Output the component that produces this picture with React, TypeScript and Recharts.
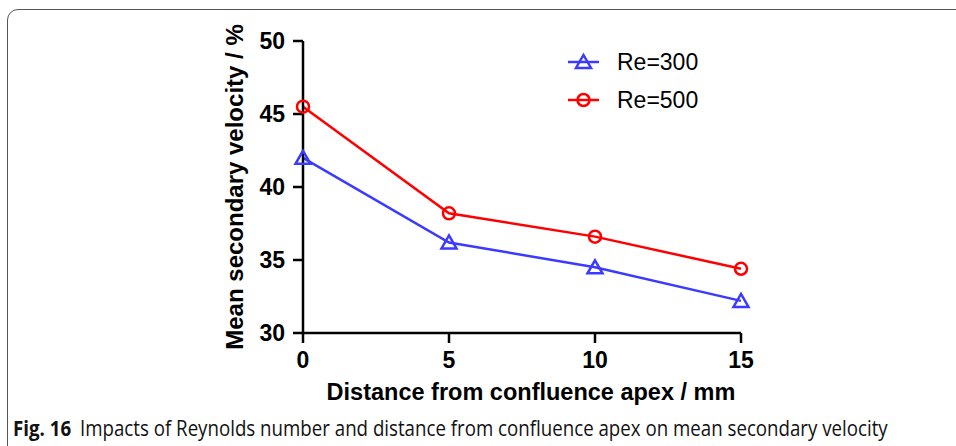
import { LineChart, Line, XAxis, YAxis } from 'recharts';

const distances = [0, 5, 10, 15];
const re300 = [42.0, 36.2, 34.5, 32.2];
const re500 = [45.5, 38.2, 36.6, 34.4];
const xTicks = [0, 5, 10, 15];
const yTicks = [30, 35, 40, 45, 50];

const BLUE = '#3b3bff';
const RED = '#ff0000';
const AXIS_FONT = 'Liberation Sans, Arial, sans-serif';

const data = distances.map((d, i) => ({ d, re300: re300[i], re500: re500[i] }));

function Triangle({ cx, cy, color }: { cx: number; cy: number; color: string }) {
  return (
    <path
      d={`M${cx},${cy - 7} L${cx + 7.5},${cy + 6} L${cx - 7.5},${cy + 6} Z`}
      fill="none"
      stroke={color}
      strokeWidth={2.5}
    />
  );
}

function Circle({ cx, cy, color }: { cx: number; cy: number; color: string }) {
  return <circle cx={cx} cy={cy} r={6} fill="none" stroke={color} strokeWidth={2.5} />;
}

const legendItems = [
  { label: 'Re=300', color: BLUE, shape: 'triangle' },
  { label: 'Re=500', color: RED, shape: 'circle' },
];

function ChartLegend() {
  return (
    <svg
      width={150}
      height={80}
      style={{ position: 'absolute', left: 568, top: 48, overflow: 'visible' }}
    >
      {legendItems.map((it, i) => {
        const y = 14 + i * 38;
        return (
          <g key={it.label}>
            <line x1={0} x2={31} y1={y} y2={y} stroke={it.color} strokeWidth={2.5} />
            {it.shape === 'triangle' ? (
              <Triangle cx={15.5} cy={y} color={it.color} />
            ) : (
              <Circle cx={15.5} cy={y} color={it.color} />
            )}
            <text x={49} y={y + 8} fontSize={23} fontFamily={AXIS_FONT} fill="#000">
              {it.label}
            </text>
          </g>
        );
      })}
    </svg>
  );
}

export default function App() {
  return (
    <div style={{ position: 'absolute', left: 0, top: 0, width: 956, height: 446, background: '#fff', overflow: 'hidden' }}>
      <div
        style={{
          position: 'absolute',
          left: 7,
          top: 9,
          width: 980,
          height: 480,
          border: '1.5px solid #555',
          borderRadius: 11,
        }}
      />
      <LineChart
        width={956}
        height={446}
        data={data}
        margin={{ top: 41, right: 215, left: 243, bottom: 83 }}
      >
        <XAxis
          dataKey="d"
          type="number"
          domain={[0, 15]}
          ticks={xTicks}
          tickSize={10}
          tickMargin={9}
          height={30}
          axisLine={{ stroke: '#000', strokeWidth: 2.5 }}
          tickLine={{ stroke: '#000', strokeWidth: 2.5 }}
          tick={{ fill: '#000', fontSize: 23, fontWeight: 700, fontFamily: AXIS_FONT }}
          label={{
            content: ({ viewBox }: any) => (
              <text
                x={viewBox.x + viewBox.width / 2 + 9}
                y={400}
                textAnchor="middle"
                fontSize={23.5}
                fontWeight={700}
                fontFamily={AXIS_FONT}
                fill="#000"
              >
                Distance from confluence apex / mm
              </text>
            ),
          }}
        />
        <YAxis
          type="number"
          domain={[30, 50]}
          ticks={yTicks}
          width={60}
          tickSize={10}
          tickMargin={8}
          axisLine={{ stroke: '#000', strokeWidth: 2.5 }}
          tickLine={{ stroke: '#000', strokeWidth: 2.5 }}
          tick={{ fill: '#000', fontSize: 23, fontWeight: 700, fontFamily: AXIS_FONT }}
          label={{
            content: ({ viewBox }: any) => {
              const x = 243;
              const y = viewBox.y + viewBox.height / 2;
              return (
                <text
                  x={x}
                  y={y}
                  transform={`rotate(-90 ${x} ${y})`}
                  textAnchor="middle"
                  fontSize={24}
                  fontWeight={700}
                  fontFamily={AXIS_FONT}
                  fill="#000"
                >
                  Mean secondary velocity / %
                </text>
              );
            },
          }}
        />
        <Line
          dataKey="re300"
          stroke={BLUE}
          strokeWidth={2.5}
          isAnimationActive={false}
          dot={(p: any) => <Triangle key={p.index} cx={p.cx} cy={p.cy} color={BLUE} />}
        />
        <Line
          dataKey="re500"
          stroke={RED}
          strokeWidth={2.5}
          isAnimationActive={false}
          dot={(p: any) => <Circle key={p.index} cx={p.cx} cy={p.cy} color={RED} />}
        />
      </LineChart>
      <ChartLegend />
      <div
        style={{
          position: 'absolute',
          left: 13,
          top: 414,
          fontFamily: '"Open Sans", sans-serif',
          fontSize: 21,
          color: '#111',
          whiteSpace: 'nowrap',
          transform: 'scaleX(0.89)',
          transformOrigin: 'left top',
        }}
      >
        <span style={{ fontWeight: 700 }}>Fig. 16</span>
        <span style={{ marginLeft: 10 }}>Impacts of Reynolds number and distance from confluence apex on mean secondary velocity</span>
      </div>
    </div>
  );
}
